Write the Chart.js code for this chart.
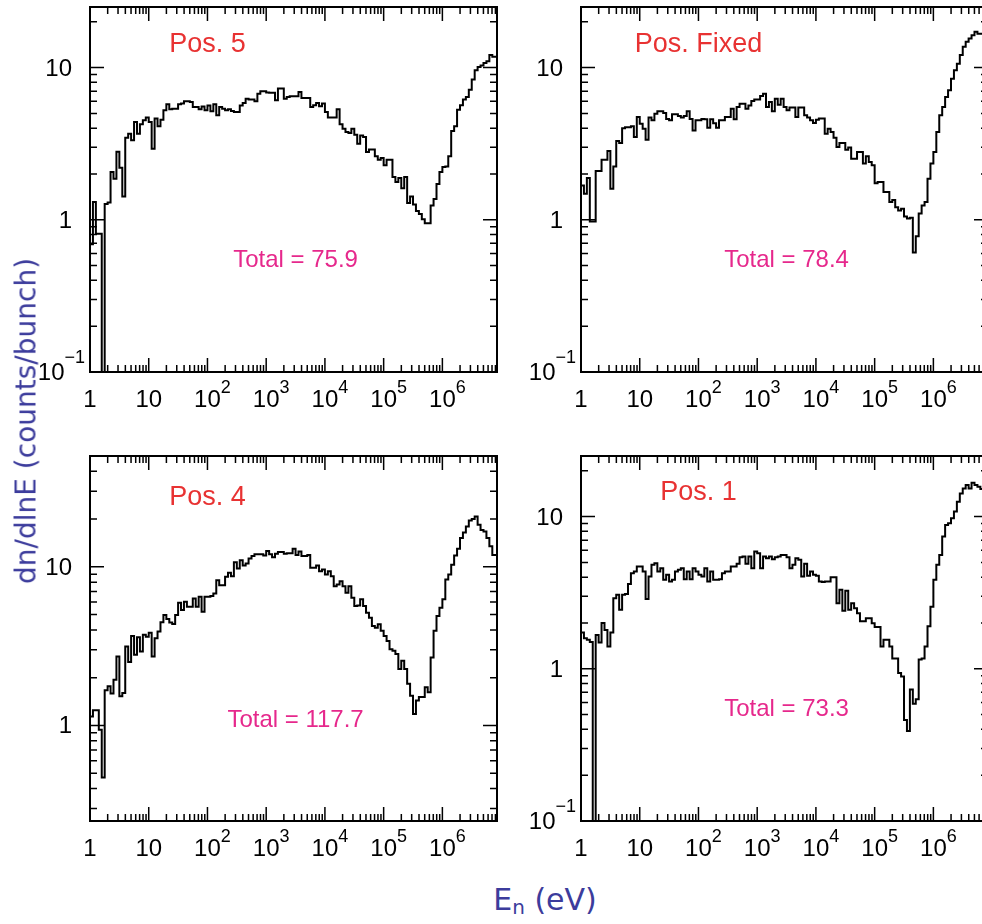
<!DOCTYPE html>
<html>
<head>
<meta charset="utf-8">
<script src="https://cdn.jsdelivr.net/npm/chart.js@4/dist/chart.umd.min.js"></script>
<style>
  html, body { margin: 0; padding: 0; background: #fff; }
  body { width: 982px; height: 924px; overflow: hidden; position: relative; }
  canvas { position: absolute; }
  .title { position: absolute; white-space: nowrap; color: #3c3c9c; font-family: "DejaVu Sans", sans-serif; }
  #ytitle { left: 26px; top: 421px; font-size: 28px; transform: translate(-50%, -50%) rotate(-90deg); }
  #xtitle { left: 545px; top: 900px; font-size: 30px; transform: translate(-50%, -50%); }
  #xtitle sub { font-size: 20px; vertical-align: -4px; }
</style>
</head>
<body>
<canvas id="p1" width="500" height="420" style="left:0;top:0"></canvas>
<canvas id="p2" width="500" height="420" style="left:491px;top:0"></canvas>
<canvas id="p3" width="500" height="420" style="left:0;top:449px"></canvas>
<canvas id="p4" width="500" height="420" style="left:491px;top:449px"></canvas>
<div class="title" id="ytitle">dn/dlnE (counts/bunch)</div>
<div class="title" id="xtitle">E<sub>n</sub> (eV)</div>
<script>
// histogram binning: 20 log bins per decade starting at 1 eV
const BINS_PER_DECADE = 20;
const N_BINS = 139;
const X_MIN = 1;
const X_MAX = Math.pow(10, 6.93);

const X_TICKS = [1, 10, 1e2, 1e3, 1e4, 1e5, 1e6];
const X_TICK_BASE = ["1", "10", "10", "10", "10", "10", "10"];
const X_TICK_EXP = ["", "", "2", "3", "4", "5", "6"];
const Y_TICKS = [0.1, 1, 10];
const Y_TICK_BASE = ["10", "1", "10"];
const Y_TICK_EXP = ["\u22121", "", ""];

const PANEL_NAMES = ["Pos. 5", "Pos. Fixed", "Pos. 4", "Pos. 1"];
const PANEL_TOTALS = [75.9, 78.4, 117.7, 73.3];
const Y_MIN = [0.1, 0.1, 0.25, 0.1];
const Y_MAX = [25, 25, 50, 25];

// dn/dlnE per bin (values below the axis minimum are off-scale bins)
const POS5 = [
  0.01, 0.69, 1.31, 0.81, 0.81, 0.01, 1.27, 1.30, 2.06, 1.86,
  2.80, 2.20, 1.42, 3.46, 3.68, 3.33, 4.39, 3.68, 4.24, 4.50,
  4.69, 4.39, 2.93, 4.62, 4.11, 4.55, 5.24, 5.74, 5.32, 5.37,
  5.37, 5.74, 5.80, 6.00, 6.00, 5.95, 5.51, 5.51, 5.32, 5.56,
  5.24, 5.64, 5.17, 5.74, 4.86, 5.51, 5.37, 5.24, 5.32, 5.19,
  5.10, 5.10, 5.64, 5.86, 6.25, 6.16, 6.16, 6.00, 6.74, 6.99,
  6.99, 6.85, 6.82, 6.82, 6.10, 7.28, 7.28, 6.25, 6.40, 6.48,
  6.48, 6.48, 6.92, 6.32, 6.32, 6.32, 5.51, 5.65, 5.86, 5.58,
  5.80, 5.10, 4.69, 4.69, 4.69, 5.32, 4.24, 3.97, 3.77, 3.71,
  3.97, 3.62, 3.16, 3.58, 3.50, 2.79, 2.90, 2.90, 2.61, 2.48,
  2.55, 2.28, 2.48, 2.48, 1.91, 1.77, 1.88, 1.61, 1.91, 1.29,
  1.42, 1.26, 1.14, 1.09, 1.01, 0.95, 0.95, 1.24, 1.37, 1.72,
  2.06, 2.22, 2.24, 2.61, 3.83, 4.11, 5.29, 5.65, 6.16, 6.41,
  7.16, 8.34, 9.60, 10.1, 10.3, 10.7, 11.0, 12.1, 11.8
];
const POS_FIXED = [
  0.11, 1.68, 1.48, 1.88, 0.975, 0.975, 2.09, 2.09, 2.48, 2.48,
  2.83, 1.60, 2.24, 3.29, 3.19, 4.00, 4.06, 4.06, 4.11, 3.50,
  4.73, 4.28, 3.97, 3.36, 4.69, 4.50, 4.98, 5.16, 5.16, 5.03,
  4.60, 4.50, 4.93, 4.93, 4.80, 4.70, 4.80, 5.16, 4.60, 3.86,
  4.50, 4.50, 4.60, 4.57, 4.03, 4.57, 4.30, 4.03, 4.50, 4.50,
  4.73, 4.73, 5.37, 4.57, 5.51, 5.79, 5.79, 5.37, 5.64, 6.03,
  6.16, 6.16, 6.50, 6.74, 5.51, 5.95, 5.16, 6.25, 5.70, 6.25,
  5.51, 5.24, 5.46, 5.46, 4.73, 5.46, 5.46, 4.86, 4.69, 4.50,
  4.33, 4.55, 4.62, 4.62, 3.68, 3.97, 3.77, 3.46, 3.01, 3.19,
  3.19, 2.89, 2.98, 2.52, 2.52, 2.79, 2.79, 2.34, 2.61, 2.40,
  2.28, 1.74, 1.77, 1.77, 1.52, 1.52, 1.31, 1.35, 1.21, 1.15,
  1.18, 1.05, 1.02, 1.03, 0.61, 0.78, 1.10, 1.24, 1.31, 1.86,
  2.34, 2.79, 3.77, 4.86, 5.51, 6.41, 7.10, 8.46, 9.60, 10.6,
  12.1, 13.7, 14.8, 15.5, 16.3, 17.2, 16.7, 16.7, 16.5
];
const POS4 = [
  0.20, 1.14, 1.25, 1.25, 0.94, 0.47, 1.67, 1.77, 1.59, 1.94,
  2.72, 1.53, 1.60, 3.15, 2.51, 3.67, 2.79, 3.60, 2.93, 3.73,
  3.63, 3.85, 2.72, 3.55, 3.91, 4.48, 4.97, 4.69, 4.46, 4.37,
  4.97, 5.94, 5.35, 6.03, 5.61, 5.61, 6.33, 5.61, 6.48, 5.22,
  6.48, 6.48, 6.55, 6.80, 8.25, 7.67, 7.67, 8.65, 9.17, 8.74,
  10.7, 9.77, 11.0, 10.2, 10.5, 11.3, 11.7, 12.0, 12.0, 12.0,
  11.8, 12.6, 12.0, 11.5, 12.1, 12.4, 12.4, 12.1, 12.2, 12.2,
  13.0, 11.9, 12.5, 11.7, 11.7, 11.9, 9.86, 9.86, 10.2, 9.40,
  9.62, 8.95, 9.40, 8.74, 7.56, 7.75, 8.13, 7.56, 6.87, 7.56,
  6.39, 5.66, 5.71, 6.24, 5.66, 5.14, 4.78, 4.24, 4.14, 4.35,
  3.95, 3.67, 3.41, 3.03, 2.96, 2.82, 2.27, 2.56, 2.27, 1.83,
  1.54, 1.18, 1.44, 1.51, 1.51, 1.74, 1.62, 2.68, 3.95, 4.90,
  5.53, 6.24, 8.33, 8.95, 10.3, 11.8, 13.0, 15.2, 16.5, 18.0,
  19.6, 20.0, 20.8, 18.4, 17.1, 16.7, 15.2, 13.5, 11.9
];
const POS1 = [
  0.28, 1.73, 1.59, 1.55, 1.50, 0.01, 1.67, 1.49, 2.00, 1.80,
  1.40, 1.73, 2.91, 3.06, 2.44, 3.06, 3.10, 3.61, 4.25, 4.36,
  4.70, 4.70, 4.35, 2.87, 4.04, 4.82, 4.94, 4.35, 4.58, 3.84,
  4.14, 3.74, 3.84, 4.35, 4.47, 4.58, 3.88, 4.35, 3.88, 4.58,
  4.35, 4.14, 4.04, 4.58, 3.74, 4.35, 3.84, 3.84, 3.88, 4.25,
  4.35, 4.35, 4.70, 4.70, 4.89, 5.41, 5.46, 4.89, 5.46, 4.58,
  5.89, 5.75, 4.58, 5.46, 5.33, 5.46, 5.25, 5.41, 5.46, 5.60,
  5.60, 5.41, 4.58, 4.82, 5.33, 5.20, 4.04, 4.89, 4.08, 4.35,
  4.14, 4.08, 3.74, 3.71, 3.74, 3.74, 4.00, 4.00, 2.70, 3.30,
  2.41, 3.26, 2.44, 2.70, 2.50, 2.32, 2.05, 2.05, 2.15, 2.15,
  1.99, 1.88, 1.88, 1.40, 1.55, 1.55, 1.40, 1.17, 1.17, 0.94,
  0.89, 0.46, 0.39, 0.73, 0.59, 0.63, 1.15, 1.17, 1.40, 1.90,
  2.56, 3.84, 4.82, 5.60, 7.39, 8.81, 9.04, 9.75, 10.8, 12.5,
  14.2, 15.3, 16.1, 15.3, 16.7, 16.1, 15.7, 15.2, 14.8
];

const SERIES = [POS5, POS_FIXED, POS4, POS1];

// text placement inside each frame (px from top of frame)
const textPos = [
  { name: 45, total: 260 },
  { name: 45, total: 260 },
  { name: 49, total: 271 },
  { name: 44, total: 260 },
];

const RED = "#e83232";
const MAGENTA = "#e6288c";
const TICK_FONT = '"Liberation Sans", Arial, sans-serif';

function binEdge(i) {
  return Math.pow(10, i / BINS_PER_DECADE);
}

// step histogram: one point per lower bin edge, plus the upper edge of the last bin
function histPoints(vals) {
  const pts = vals.map((v, i) => ({ x: binEdge(i), y: v }));
  pts.push({ x: binEdge(vals.length), y: vals[vals.length - 1] });
  return pts;
}

function drawLabel(ctx, base, exp, x, y, align, baseSize, expSize, expRise) {
  ctx.font = baseSize + "px " + TICK_FONT;
  const wb = ctx.measureText(base).width;
  ctx.font = expSize + "px " + TICK_FONT;
  const we = exp ? ctx.measureText(exp).width : 0;
  let left;
  if (align === "center") left = x - wb / 2;
  else left = x - wb - we;
  ctx.textAlign = "left";
  ctx.textBaseline = "alphabetic";
  ctx.font = baseSize + "px " + TICK_FONT;
  ctx.fillText(base, left, y);
  if (exp) {
    ctx.font = expSize + "px " + TICK_FONT;
    ctx.fillText(exp, left + wb, y - expRise);
  }
}

const framePlugin = {
  id: "paw",
  afterDatasetsDraw(chart, args, opts) {
    const { ctx, chartArea: a } = chart;
    const x = chart.scales.x, y = chart.scales.y;
    ctx.save();
    ctx.strokeStyle = "#000";
    ctx.lineWidth = 1.5;
    ctx.beginPath();
    for (let k = 0; k <= 7; k++) {
      for (let m = 1; m <= 9; m++) {
        const v = m * Math.pow(10, k);
        if (v < x.min || v > x.max) continue;
        const px = x.getPixelForValue(v);
        const len = m === 1 ? 14 : 7;
        ctx.moveTo(px, a.bottom);
        ctx.lineTo(px, a.bottom - len);
        ctx.moveTo(px, a.top);
        ctx.lineTo(px, a.top + len);
      }
    }
    for (let k = -1; k <= 2; k++) {
      for (let m = 1; m <= 9; m++) {
        const v = m * Math.pow(10, k);
        if (v < y.min * 0.999 || v > y.max) continue;
        const py = y.getPixelForValue(v);
        const len = m === 1 ? 14 : 7;
        ctx.moveTo(a.left, py);
        ctx.lineTo(a.left + len, py);
        ctx.moveTo(a.right, py);
        ctx.lineTo(a.right - len, py);
      }
    }
    ctx.stroke();
    ctx.lineWidth = 2;
    ctx.strokeRect(a.left, a.top, a.right - a.left, a.bottom - a.top);

    // tick labels
    ctx.fillStyle = "#000";
    X_TICKS.forEach((v, i) => {
      drawLabel(ctx, X_TICK_BASE[i], X_TICK_EXP[i], x.getPixelForValue(v), a.bottom + 35, "center", 24, 18, 14);
    });
    Y_TICKS.forEach((v, i) => {
      if (v < y.min * 0.999 || v > y.max) return;
      const py = y.getPixelForValue(v) + 8;
      if (Y_TICK_EXP[i]) drawLabel(ctx, Y_TICK_BASE[i], Y_TICK_EXP[i], a.left - 5, py, "right", 24, 18, 17);
      else drawLabel(ctx, Y_TICK_BASE[i], "", a.left - 18, py, "right", 24, 18, 0);
    });

    // panel name and total
    ctx.textAlign = "center";
    ctx.textBaseline = "alphabetic";
    ctx.fillStyle = RED;
    ctx.font = "27px " + TICK_FONT;
    ctx.fillText(opts.name, x.getPixelForValue(100), a.top + opts.nameDy);
    ctx.fillStyle = MAGENTA;
    ctx.font = "24px " + TICK_FONT;
    ctx.fillText("Total = " + opts.total, x.getPixelForValue(Math.pow(10, 3.5)), a.top + opts.totalDy);
    ctx.restore();
  },
};

["p1", "p2", "p3", "p4"].forEach((id, n) => {
  new Chart(document.getElementById(id), {
    type: "line",
    data: {
      datasets: [{
        data: histPoints(SERIES[n]),
        stepped: "after",
        borderColor: "#000",
        borderWidth: 2,
        pointRadius: 0,
        fill: false,
      }],
    },
    options: {
      responsive: false,
      animation: false,
      events: [],
      layout: { padding: { left: 90, top: 7, right: 3, bottom: 48 } },
      plugins: {
        legend: { display: false },
        tooltip: { enabled: false },
        paw: {
          name: PANEL_NAMES[n],
          total: PANEL_TOTALS[n],
          nameDy: textPos[n].name,
          totalDy: textPos[n].total,
        },
      },
      scales: {
        x: { type: "logarithmic", min: X_MIN, max: X_MAX, display: false },
        y: { type: "logarithmic", min: Y_MIN[n], max: Y_MAX[n], display: false },
      },
    },
    plugins: [framePlugin],
  });
});
</script>
</body>
</html>
